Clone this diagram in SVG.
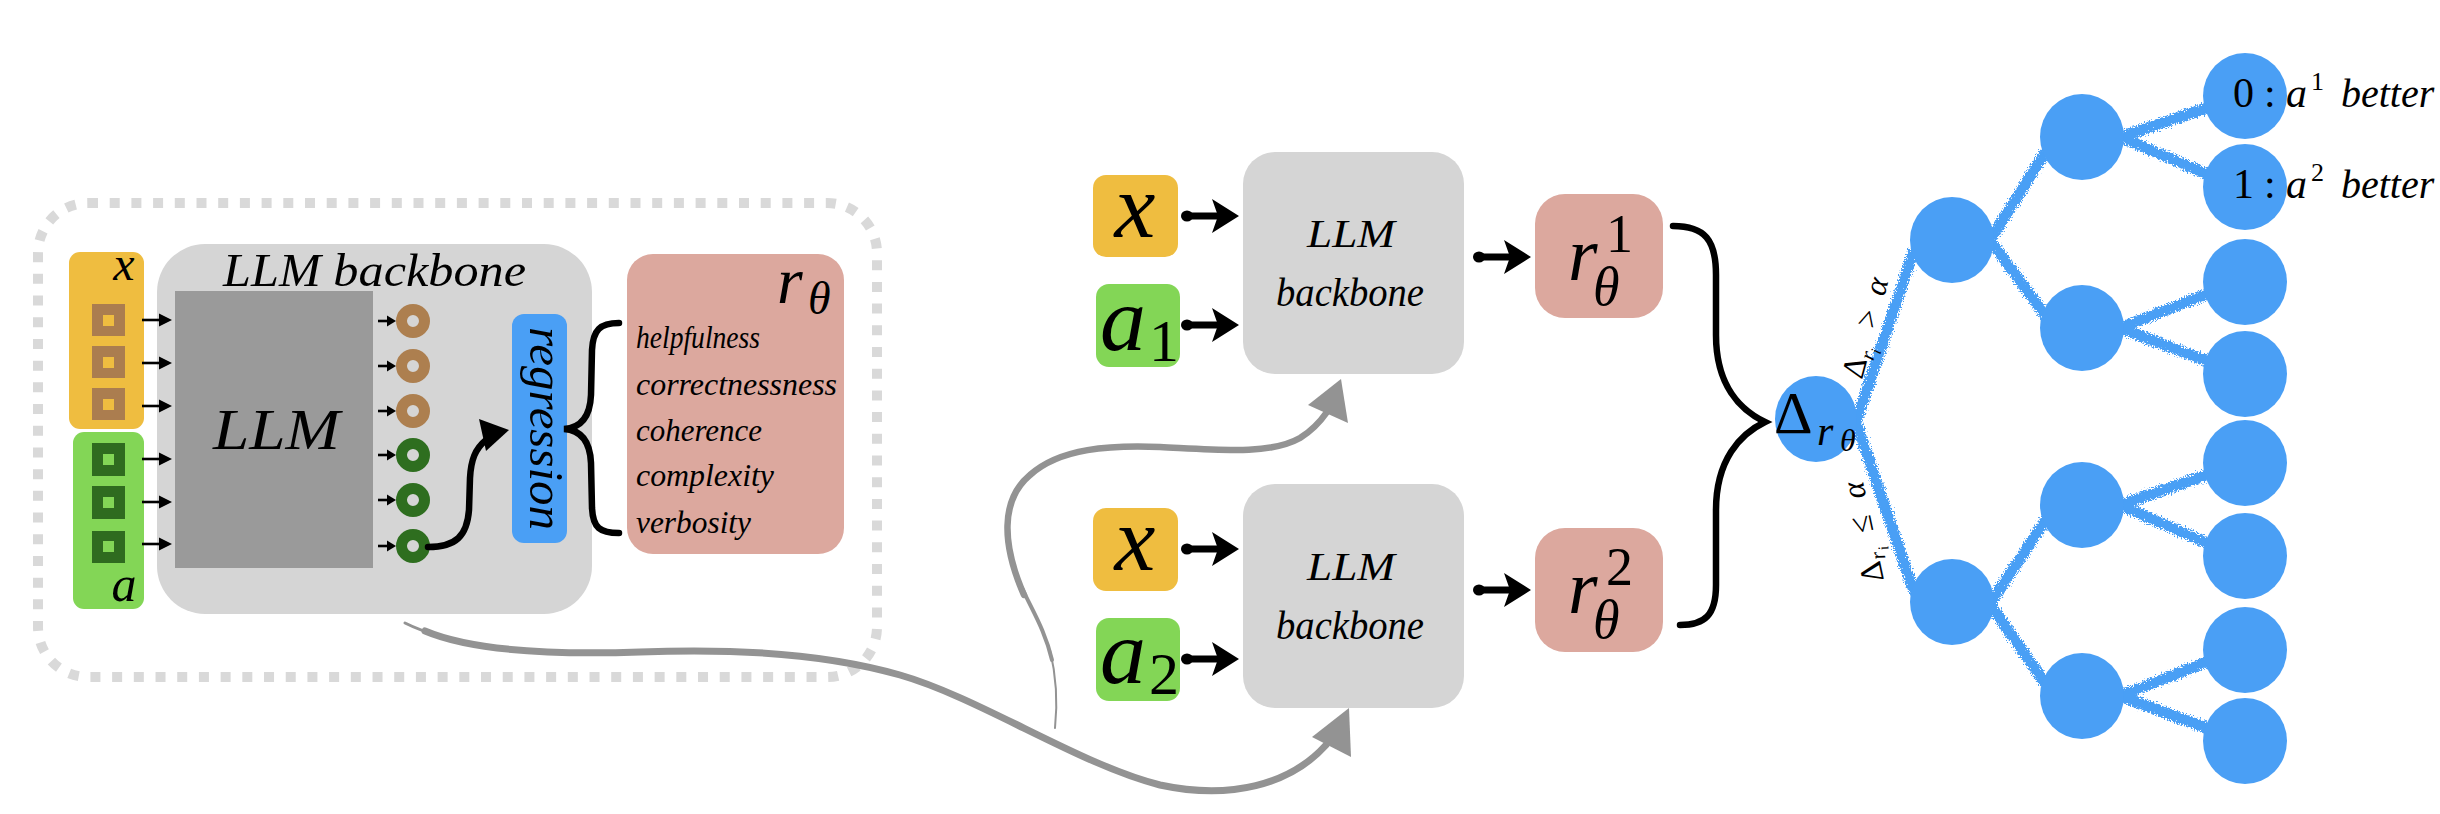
<svg xmlns="http://www.w3.org/2000/svg" width="2440" height="814" viewBox="0 0 2440 814">
<defs>
<style>
text{font-family:'Liberation Serif','Times New Roman','DejaVu Serif',Tinos,serif}
.m{font-family:'Liberation Serif','Times New Roman','DejaVu Serif',Tinos,serif;font-style:italic;fill:#000}
.u{font-family:'Liberation Serif','Times New Roman','DejaVu Serif',Tinos,serif;font-style:normal;fill:#000}
.bb{fill:#D5D5D5}
.xo{fill:#EFBD40}
.ag{fill:#83D656}
.rp{fill:#DCA89E}
.node{fill:#4A9FF5}
.edge{stroke:#4A9FF5;stroke-width:11;stroke-linecap:round;fill:none}
.gray{stroke:#939393;fill:none;stroke-linecap:round}
.brace{stroke:#000;fill:none;stroke-width:6.5;stroke-linecap:round}
.ring-b{fill:none;stroke:#AD7F4F;stroke-width:11}
.ring-g{fill:none;stroke:#2E6E1F;stroke-width:11}
</style>
<filter id="rough" filterUnits="userSpaceOnUse" x="0" y="0" width="2440" height="814">
<feTurbulence type="fractalNoise" baseFrequency="0.7" numOctaves="2" seed="5" result="n"/>
<feDisplacementMap in="SourceGraphic" in2="n" scale="9" xChannelSelector="R" yChannelSelector="G"/>
</filter>
<g id="barrow">
<ellipse cx="-52" cy="0" rx="6" ry="5.5"/>
<rect x="-52" y="-3.5" width="31" height="7"/>
<path d="M0,0 L-27,-17 L-21,0 L-27,17Z"/>
</g>
<g id="sarrow">
<line x1="-30" y1="0" x2="-11" y2="0" stroke="#000" stroke-width="2.6"/>
<path d="M0,0 L-13,-6.5 L-13,6.5Z"/>
</g>
<g id="tarrow">
<line x1="-18" y1="0" x2="-7" y2="0" stroke="#000" stroke-width="2.6"/>
<path d="M0,0 L-9,-5.5 L-9,5.5Z"/>
</g>
</defs>
<rect x="0" y="0" width="2440" height="814" fill="#fff"/>

<g id="encoder-frame">
<rect x="38" y="203" width="839" height="474" rx="50" fill="none" stroke="#D9D9D9" stroke-width="10" stroke-dasharray="10 11.7"/>
</g>

<g id="llm-backbone-main">
<rect class="bb" x="157" y="244" width="435" height="370" rx="48"/>
<text class="m" x="223" y="286" font-size="46" textLength="303" lengthAdjust="spacingAndGlyphs">LLM backbone</text>
<rect x="175" y="291" width="198" height="277" fill="#9A9A9A"/>
<text class="m" x="213" y="449" font-size="58" textLength="127" lengthAdjust="spacingAndGlyphs">LLM</text>
<circle class="ring-b" cx="413" cy="321" r="11.5"/>
<circle class="ring-b" cx="413" cy="366" r="11.5"/>
<circle class="ring-b" cx="413" cy="411" r="11.5"/>
<circle class="ring-g" cx="413" cy="455" r="11.5"/>
<circle class="ring-g" cx="413" cy="500" r="11.5"/>
<circle class="ring-g" cx="413" cy="546" r="11.5"/>
</g>

<g id="input-x">
<rect class="xo" x="69" y="252" width="75" height="177" rx="11"/>
<text class="m" x="124" y="280" font-size="48" text-anchor="middle">x</text>
<rect x="92" y="304" width="33" height="32" fill="#AB7D4F"/><rect class="xo" x="103" y="315" width="11" height="11"/>
<rect x="92" y="346" width="33" height="32" fill="#AB7D4F"/><rect class="xo" x="103" y="357" width="11" height="11"/>
<rect x="92" y="388" width="33" height="32" fill="#AB7D4F"/><rect class="xo" x="103" y="399" width="11" height="11"/>
</g>

<g id="input-a">
<rect class="ag" x="73" y="432" width="71" height="177" rx="11"/>
<rect x="92" y="443" width="33" height="33" fill="#2F6B1F"/><rect class="ag" x="103" y="454" width="11" height="11"/>
<rect x="92" y="486" width="33" height="33" fill="#2F6B1F"/><rect class="ag" x="103" y="497" width="11" height="11"/>
<rect x="92" y="531" width="33" height="32" fill="#2F6B1F"/><rect class="ag" x="103" y="541" width="11" height="11"/>
<text class="m" x="124" y="601" font-size="50" text-anchor="middle">a</text>
</g>

<g id="regression">
<rect x="512" y="314" width="55" height="229" rx="12" fill="#4A9FF5"/>
<text class="m" transform="translate(530,327) rotate(90)" font-size="48" textLength="203" lengthAdjust="spacingAndGlyphs">regression</text>
</g>

<g id="r-theta-box">
<rect class="rp" x="627" y="254" width="217" height="300" rx="26"/>
<text class="m" x="777" y="303" font-size="66">r</text>
<text class="m" x="808" y="314" font-size="46">θ</text>
<text class="m" x="636" y="348" font-size="32" textLength="124" lengthAdjust="spacingAndGlyphs">helpfulness</text>
<text class="m" x="636" y="395" font-size="32" textLength="201" lengthAdjust="spacingAndGlyphs">correctnessness</text>
<text class="m" x="636" y="441" font-size="32" textLength="126" lengthAdjust="spacingAndGlyphs">coherence</text>
<text class="m" x="636" y="486" font-size="32" textLength="138" lengthAdjust="spacingAndGlyphs">complexity</text>
<text class="m" x="636" y="533" font-size="32" textLength="115" lengthAdjust="spacingAndGlyphs">verbosity</text>
</g>

<g id="top-pair">
<rect class="xo" x="1093" y="175" width="85" height="82" rx="13"/>
<text class="m" x="1135" y="237" font-size="92" text-anchor="middle">x</text>
<rect class="ag" x="1096" y="284" width="84" height="83" rx="13"/>
<text class="m" x="1100" y="350" font-size="92">a</text>
<text class="u" x="1149" y="361" font-size="60">1</text>
<rect class="bb" x="1243" y="152" width="221" height="222" rx="32"/>
<text class="m" x="1351" y="247" font-size="40" text-anchor="middle" textLength="88" lengthAdjust="spacingAndGlyphs">LLM</text>
<text class="m" x="1350" y="306" font-size="40" text-anchor="middle" textLength="148" lengthAdjust="spacingAndGlyphs">backbone</text>
<rect class="rp" x="1535" y="194" width="128" height="124" rx="30"/>
<text class="m" x="1568" y="280" font-size="76">r</text>
<text class="u" x="1606" y="252" font-size="54">1</text>
<text class="m" x="1593" y="305" font-size="54">θ</text>
</g>

<g id="bottom-pair">
<rect class="xo" x="1093" y="508" width="85" height="83" rx="13"/>
<text class="m" x="1135" y="570" font-size="92" text-anchor="middle">x</text>
<rect class="ag" x="1096" y="618" width="84" height="83" rx="13"/>
<text class="m" x="1100" y="683" font-size="92">a</text>
<text class="u" x="1149" y="694" font-size="60">2</text>
<rect class="bb" x="1243" y="484" width="221" height="224" rx="32"/>
<text class="m" x="1351" y="580" font-size="40" text-anchor="middle" textLength="88" lengthAdjust="spacingAndGlyphs">LLM</text>
<text class="m" x="1350" y="639" font-size="40" text-anchor="middle" textLength="148" lengthAdjust="spacingAndGlyphs">backbone</text>
<rect class="rp" x="1535" y="528" width="128" height="124" rx="30"/>
<text class="m" x="1568" y="613" font-size="76">r</text>
<text class="u" x="1606" y="585" font-size="54">2</text>
<text class="m" x="1593" y="638" font-size="54">θ</text>
</g>

<g id="connectors">
<use href="#sarrow" transform="translate(172,320)"/>
<use href="#sarrow" transform="translate(172,363)"/>
<use href="#sarrow" transform="translate(172,406)"/>
<use href="#sarrow" transform="translate(172,459)"/>
<use href="#sarrow" transform="translate(172,502)"/>
<use href="#sarrow" transform="translate(172,544)"/>
<use href="#tarrow" transform="translate(396,321)"/>
<use href="#tarrow" transform="translate(396,366)"/>
<use href="#tarrow" transform="translate(396,411)"/>
<use href="#tarrow" transform="translate(396,455)"/>
<use href="#tarrow" transform="translate(396,500)"/>
<use href="#tarrow" transform="translate(396,546)"/>
<path d="M428,547 C456,547 467,536 469,510 L470,478 C471,460 475,449 486,440" stroke="#000" stroke-width="6.5" fill="none" stroke-linecap="round"/>
<path d="M509,430 L479,419 L486,451Z"/>
<path class="brace" d="M619,323 C600,323 593,330 592,350 L591,395 C590,418 580,428 564,429 C580,430 590,440 591,463 L592,508 C593,528 600,533 619,533"/>

<use href="#barrow" transform="translate(1239,216)"/>
<use href="#barrow" transform="translate(1239,325)"/>
<use href="#barrow" transform="translate(1531,257)"/>
<use href="#barrow" transform="translate(1239,549)"/>
<use href="#barrow" transform="translate(1239,659)"/>
<use href="#barrow" transform="translate(1531,590)"/>
<path class="brace" d="M1673,226 C1705,226 1716,240 1716,275 L1716,335 C1716,385 1740,410 1765,422 C1740,434 1716,460 1716,510 L1716,585 C1716,615 1705,625 1680,625"/>

<path class="gray" stroke-width="3" d="M405,623 C415,628 425,632 440,636"/>
<path class="gray" stroke-width="7" d="M425,631 C470,650 550,655 640,652 C740,648 830,655 900,675 C980,698 1080,765 1160,785 C1230,800 1290,785 1326,745"/>
<path d="M1349,708 L1351,757 L1312,737Z" fill="#939393"/>
<path class="gray" stroke-width="2" d="M1055,728 C1058,700 1056,675 1050,650"/>
<path class="gray" stroke-width="4" d="M1052,660 C1045,630 1032,610 1022,588"/>
<path class="gray" stroke-width="6.5" d="M1024,595 C1002,545 1000,500 1030,475 C1060,448 1110,445 1160,447 C1220,450 1270,455 1300,438 C1313,430 1320,422 1327,412"/>
<path d="M1341,379 L1348,423 L1308,405Z" fill="#939393"/>
</g>

<g id="tree-edges" filter="url(#rough)">
<path class="edge" d="M1856,422 L1913,253 M1856,422 L1913,589"/>
<path class="edge" d="M1990,240 L2045,153 M1990,240 L2045,315"/>
<path class="edge" d="M1990,604 L2045,521 M1990,604 L2045,683"/>
<path class="edge" stroke-width="9" d="M2120,137 L2207,108 M2120,137 L2207,174"/>
<path class="edge" stroke-width="9" d="M2120,328 L2207,294 M2120,328 L2207,361"/>
<path class="edge" stroke-width="9" d="M2120,505 L2207,475 M2120,505 L2207,543"/>
<path class="edge" stroke-width="9" d="M2120,696 L2207,662 M2120,696 L2207,728"/>
</g>

<g id="edge-labels">
<text class="m" transform="translate(1862,380) rotate(-75)" font-size="32"><tspan class="u" x="0" y="0">Δ</tspan><tspan x="21" y="6" font-size="21">r</tspan><tspan x="29" y="11" font-size="15">i</tspan><tspan class="u" x="52" y="0">&gt;</tspan><tspan x="86" y="0">α</tspan></text>
<text class="m" transform="translate(1884,580) rotate(-102)" font-size="32"><tspan class="u" x="0" y="0">Δ</tspan><tspan x="21" y="6" font-size="21">r</tspan><tspan x="29" y="11" font-size="15">i</tspan><tspan class="u" x="50" y="0">≤</tspan><tspan x="85" y="0">α</tspan></text>
</g>

<g id="delta-root">
<ellipse class="node" cx="1816" cy="419" rx="41" ry="43"/>
<text class="u" x="1774" y="433" font-size="60">Δ</text>
<text class="m" x="1817" y="445" font-size="42">r</text>
<text class="m" x="1840" y="451" font-size="32">θ</text>
</g>

<g id="tree-nodes">
<ellipse class="node" cx="1952" cy="240" rx="42" ry="43"/>
<ellipse class="node" cx="1952" cy="602" rx="42" ry="43"/>
<ellipse class="node" cx="2082" cy="137" rx="42" ry="43"/>
<ellipse class="node" cx="2082" cy="328" rx="42" ry="43"/>
<ellipse class="node" cx="2082" cy="505" rx="42" ry="43"/>
<ellipse class="node" cx="2082" cy="696" rx="42" ry="43"/>
<ellipse class="node" cx="2245" cy="96" rx="42" ry="43"/>
<ellipse class="node" cx="2245" cy="187" rx="42" ry="43"/>
<ellipse class="node" cx="2245" cy="282" rx="42" ry="43"/>
<ellipse class="node" cx="2245" cy="374" rx="42" ry="43"/>
<ellipse class="node" cx="2245" cy="463" rx="42" ry="43"/>
<ellipse class="node" cx="2245" cy="556" rx="42" ry="43"/>
<ellipse class="node" cx="2245" cy="650" rx="42" ry="43"/>
<ellipse class="node" cx="2245" cy="741" rx="42" ry="43"/>
</g>

<g id="leaf-labels">
<text class="u" y="107" font-size="42"><tspan x="2233">0</tspan><tspan x="2264">:</tspan><tspan class="m" x="2286">a</tspan><tspan x="2311" y="90" font-size="26">1</tspan><tspan class="m" x="2341" y="107" font-size="40">better</tspan></text>
<text class="u" y="198" font-size="42"><tspan x="2233">1</tspan><tspan x="2264">:</tspan><tspan class="m" x="2286">a</tspan><tspan x="2311" y="181" font-size="26">2</tspan><tspan class="m" x="2341" y="198" font-size="40">better</tspan></text>
</g>
</svg>
